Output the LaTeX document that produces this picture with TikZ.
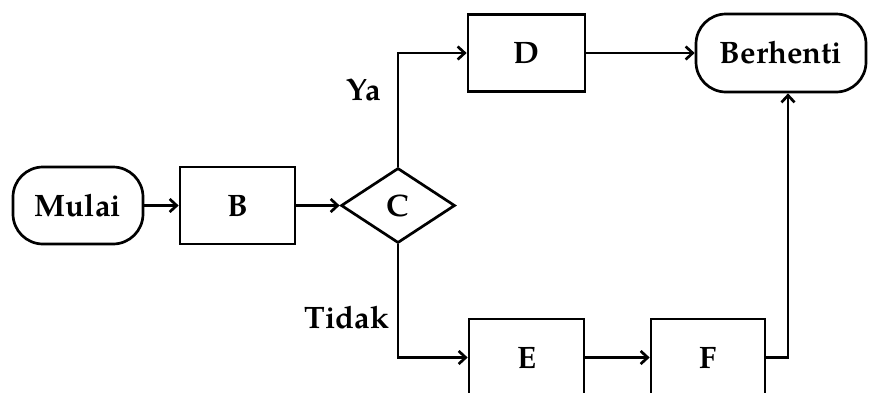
\documentclass[tikz,border=0pt]{standalone}
\usepackage{fontspec}
\setmainfont{TeX Gyre Pagella}
\usetikzlibrary{arrows.meta,shapes.geometric}
\begin{document}
\begin{tikzpicture}[x=1pt,y=-1pt,
  every node/.style={font=\fontsize{31}{36}\selectfont\bfseries, inner sep=0pt},
  box/.style={draw, line width=2.7pt, rectangle, minimum width=115pt, minimum height=77pt},
  term/.style={draw, line width=2.7pt, rectangle, rounded corners=30pt, minimum height=77pt},
  dec/.style={draw, line width=2.7pt, diamond, minimum width=114pt, minimum height=75pt},
  lbl/.style={},
  arr/.style={line width=2.7pt, -{Straight Barb[length=7pt,width=13pt,line width=2.7pt]}},
  ln/.style={line width=2.7pt}]
\useasboundingbox (0,0) rectangle (869,392);
\node[term, minimum width=130pt] (mulai) at (78,205.5) {Mulai};
\node[box] (b) at (237.5,205.5) {B};
\node[dec] (c) at (398,205.5) {C};
\node[box, minimum width=117pt] (d) at (526.5,53) {D};
\node[term, minimum width=170pt, minimum height=78pt] (stop) at (781,53) {Berhenti};
\node[box] (e) at (526.5,357.5) {E};
\node[box, minimum width=114pt] (f) at (708,357.5) {F};
\node[lbl] (ya) at (364,90) {Ya};
\node[lbl] (tidak) at (347,318) {Tidak};
\coordinate (bj) at (788,0);
\draw[arr] (mulai.east) -- (b.west);
\draw[arr] (b.east) -- (c.west);
\draw[arr] (c.north) |- (d.west);
\draw[arr] (c.south) |- (e.west);
\draw[arr] (d.east) -- (stop.west);
\draw[arr] (e.east) -- (f.west);
\draw[arr] (f.east) -| (bj |- stop.south);
\end{tikzpicture}
\end{document}
